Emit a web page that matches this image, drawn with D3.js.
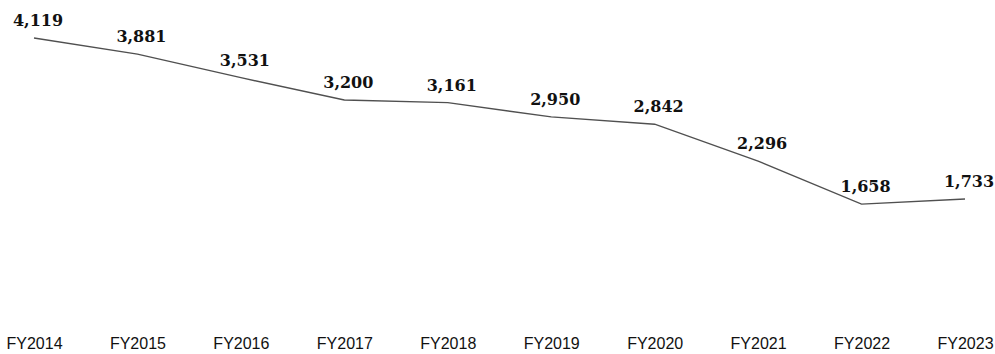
<!DOCTYPE html>
<html>
<head>
<meta charset="utf-8">
<script src="https://cdn.jsdelivr.net/npm/d3@7"></script>
<style>
  html, body { margin: 0; padding: 0; background: #fff; }
  svg { display: block; }
</style>
</head>
<body>
<svg id="chart" width="995" height="354"></svg>
<script>
// Fiscal years along the x axis and the yearly totals
const years = ["FY2014", "FY2015", "FY2016", "FY2017", "FY2018", "FY2019", "FY2020", "FY2021", "FY2022", "FY2023"];
const totals = [4119, 3881, 3531, 3200, 3161, 2950, 2842, 2296, 1658, 1733];

const data = years.map((y, i) => ({ year: y, value: totals[i] }));

const svg = d3.select("#chart");

const x = d3.scalePoint()
  .domain(years)
  .range([34, 965]);

const y = d3.scaleLinear()
  .domain([0, 4119])
  .range([316, 38]);

// Trend line
svg.append("path")
  .datum(data)
  .attr("fill", "none")
  .attr("stroke", "#505050")
  .attr("stroke-width", 1.4)
  .attr("d", d3.line().x(d => x(d.year)).y(d => y(d.value)));

// Value labels above each point
svg.append("g")
  .selectAll("text")
  .data(data)
  .join("text")
  .attr("x", d => x(d.year) + 4)
  .attr("y", d => y(d.value) - 12)
  .attr("text-anchor", "middle")
  .attr("font-family", "'DejaVu Serif', serif")
  .attr("font-weight", "bold")
  .attr("font-size", 16)
  .attr("fill", "#111")
  .text(d => d3.format(",")(d.value));

// Category axis labels
const xAxis = d3.axisBottom(x).tickSize(0).tickPadding(0);
const gx = svg.append("g")
  .attr("transform", "translate(0,338)")
  .call(xAxis);
gx.select(".domain").remove();
gx.selectAll("text")
  .attr("font-family", "'Liberation Sans', Arial, sans-serif")
  .attr("font-size", 16)
  .attr("fill", "#111")
  .attr("dy", "0.71em");
</script>
</body>
</html>
